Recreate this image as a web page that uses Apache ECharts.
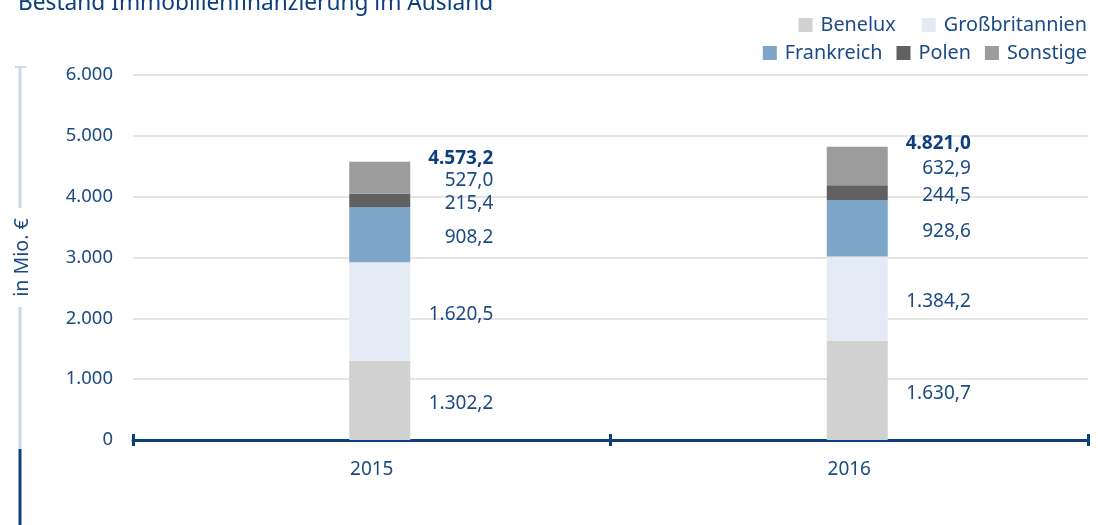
<!DOCTYPE html>
<html><head><meta charset="utf-8">
<script src="https://cdn.jsdelivr.net/npm/echarts@6/dist/echarts.min.js"></script>
<style>html,body{margin:0;padding:0;background:#fff}#c{width:1098px;height:525px}</style>
</head><body><div id="c"></div>
<script>
const categories = ['2015', '2016'];
const benelux = [1302.2, 1630.7];
const grossbritannien = [1620.5, 1384.2];
const frankreich = [908.2, 928.6];
const polen = [215.4, 244.5];
const sonstige = [527.0, 632.9];
const totals = [4573.2, 4821.0];
const yTicks = [0, 1000, 2000, 3000, 4000, 5000, 6000];

const TXT = '#1b4a85';
const FONT = 'Noto Sans';
const fmt = v => v.toLocaleString('de-DE', {minimumFractionDigits: 1, maximumFractionDigits: 1});
const fmtInt = v => v.toLocaleString('de-DE');

function seg(name, data, color) {
  return {
    name, type: 'bar', stack: 'a', data, barWidth: 61,
    itemStyle: {color},
    label: {show: true, position: [144, '50%'], offset: [0, 3], align: 'right', verticalAlign: 'middle',
      color: TXT, fontFamily: FONT, fontSize: 19, formatter: p => fmt(p.value)}
  };
}

const legendText = {color: TXT, fontFamily: FONT, fontSize: 19.8, padding: [0, 0, 0, 3]};

const chart = echarts.init(document.getElementById('c'));
chart.setOption({
  animation: false,
  title: {text: 'Bestand Immobilienfinanzierung im Ausland', left: 18, top: -8, padding: 0,
    textStyle: {color: '#0d3f7f', fontFamily: FONT, fontSize: 22.7, fontWeight: 'normal'}},
  legend: [
    {data: ['Benelux', 'Großbritannien'], right: 11, top: 15, itemWidth: 14, itemHeight: 14, itemGap: 26,
      icon: 'rect', padding: 0, textStyle: legendText},
    {data: ['Frankreich', 'Polen', 'Sonstige'], right: 11, top: 43, itemWidth: 14, itemHeight: 14, itemGap: 14,
      icon: 'rect', padding: 0, textStyle: legendText}
  ],
  grid: {left: 133, right: 10, top: 75, bottom: 85, outerBoundsMode: 'none', containLabel: false},
  xAxis: [
    {type: 'category', data: categories, boundaryGap: true,
      axisLine: {lineStyle: {color: '#0d3f7f', width: 3}},
      axisTick: {show: true, length: 6, lineStyle: {color: '#0d3f7f', width: 3}},
      axisLabel: {color: TXT, fontFamily: FONT, fontSize: 19, margin: 20}},
    {type: 'category', data: categories, boundaryGap: true, position: 'bottom',
      axisLine: {show: false},
      axisTick: {show: true, inside: true, length: 6, lineStyle: {color: '#0d3f7f', width: 3}},
      axisLabel: {show: false}}
  ],
  yAxis: {type: 'value', min: 0, max: 6000, interval: 1000,
    name: 'in Mio. €', nameLocation: 'middle', nameGap: 101, nameRotate: 90,
    nameTextStyle: {color: TXT, fontFamily: FONT, fontSize: 19.6},
    axisLine: {show: false}, axisTick: {show: false},
    splitLine: {lineStyle: {color: '#dcdcdc', width: 1.5}},
    axisLabel: {color: TXT, fontFamily: FONT, fontSize: 18.5, margin: 20,
      formatter: v => yTicks.includes(v) ? fmtInt(v) : ''}},
  series: [
    {name: 'offset', type: 'bar', stack: 'b', data: [0, 0], barWidth: 16, barGap: '0%', itemStyle: {color: 'transparent'}, silent: true},
    seg('Benelux', benelux, '#d0d1d0'),
    seg('Großbritannien', grossbritannien, '#e4ebf4'),
    seg('Frankreich', frankreich, '#7fa6c8'),
    seg('Polen', polen, '#616161'),
    seg('Sonstige', sonstige, '#9b9c9b'),
    {name: 'Summe', type: 'bar', stack: 'a', data: [0, 0], barWidth: 61, itemStyle: {color: 'transparent'},
      label: {show: true, position: [144, -3], align: 'right', verticalAlign: 'middle',
        color: '#0d3f7f', fontFamily: FONT, fontSize: 19, fontWeight: 'bold',
        formatter: p => fmt(totals[p.dataIndex])}}
  ],
  graphic: [
    {type: 'line', shape: {x1: 20, y1: 67, x2: 20, y2: 208}, style: {stroke: '#c9d9ea', lineWidth: 3}},
    {type: 'line', shape: {x1: 15, y1: 67, x2: 26, y2: 67}, style: {stroke: '#c9d9ea', lineWidth: 2}},
    {type: 'line', shape: {x1: 20, y1: 307, x2: 20, y2: 449}, style: {stroke: '#c9d9ea', lineWidth: 3}},
    {type: 'line', shape: {x1: 20, y1: 449, x2: 20, y2: 525}, style: {stroke: '#0d3f7f', lineWidth: 3}}
  ]
});
</script></body></html>
